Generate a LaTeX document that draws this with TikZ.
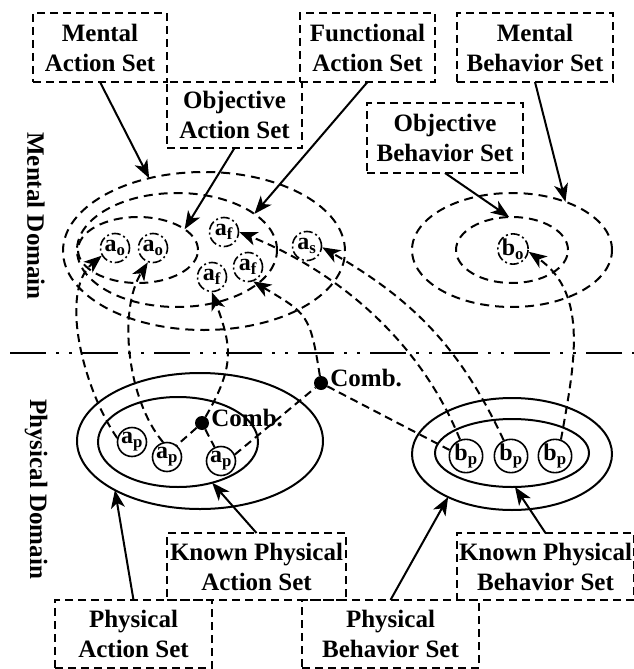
\documentclass[tikz,border=0pt]{standalone}
\usepackage{fontspec}
\setmainfont{Liberation Serif}
\usetikzlibrary{arrows.meta,shapes.geometric}

\begin{document}
\begin{tikzpicture}[x=1pt, y=1pt, >={Stealth[length=18pt,width=14pt,inset=5pt]},
  every node/.style={font=\bfseries\fontsize{25}{30}\selectfont},
  setbox/.style={draw, line width=2pt, dash pattern=on 8pt off 5pt, align=center, inner sep=0pt, outer sep=0pt},
  mset/.style={ellipse, draw, line width=2pt, dash pattern=on 9pt off 6pt, inner sep=0pt, outer sep=0pt},
  pset/.style={ellipse, draw, line width=2pt, inner sep=0pt, outer sep=0pt},
  melem/.style={circle, draw, line width=1.6pt, dash pattern=on 9pt off 3pt on 2pt off 3pt, minimum size=29pt, inner sep=0pt, font=\bfseries\fontsize{24}{24}\selectfont},
  pelem/.style={circle, draw, line width=1.6pt, minimum size=29pt, inner sep=0pt, font=\bfseries\fontsize{24}{24}\selectfont},
  comb/.style={circle, fill, inner sep=0pt, minimum size=14pt},
  link/.style={line width=2pt, dash pattern=on 8pt off 5pt},
  tag/.style={->, line width=2pt}]
  \useasboundingbox (0,0) rectangle (634,-669);

  % domains
  \node[rotate=-90] (md) at (36,-216) {Mental Domain};
  \node[rotate=-90] (pd) at (36,-489) {Physical Domain};
  \draw[line width=2pt, dash pattern=on 36pt off 10pt on 3pt off 10pt on 3pt off 10pt] (10,-353) -- (634,-353);

  % mental sets
  \node[mset, minimum width=282pt, minimum height=158pt] (MA) at (204,-251) {};
  \node[mset, minimum width=200pt, minimum height=114pt] (FA) at (177,-250) {};
  \node[mset, minimum width=120pt, minimum height=66pt]  (OA) at (138,-250) {};
  \node[mset, minimum width=200pt, minimum height=114pt] (MB) at (512,-250) {};
  \node[mset, minimum width=112pt, minimum height=66pt]  (OB) at (512,-250) {};

  \node[melem] (ao1) at (115,-248) {a\textsubscript{o}};
  \node[melem] (ao2) at (153,-248) {a\textsubscript{o}};
  \node[melem] (af1) at (224,-232) {a\textsubscript{f}};
  \node[melem] (af2) at (212,-277) {a\textsubscript{f}};
  \node[melem] (af3) at (248,-267) {a\textsubscript{f}};
  \node[melem] (as)  at (307,-246) {a\textsubscript{s}};
  \node[melem] (bo)  at (513,-249) {b\textsubscript{o}};

  % physical sets
  \node[pset, minimum width=246pt, minimum height=136pt] (PA)  at (200,-441) {};
  \node[pset, minimum width=160pt, minimum height=90pt]  (KPA) at (178,-442) {};
  \node[pset, minimum width=200pt, minimum height=112pt] (PB)  at (512,-454) {};
  \node[pset, minimum width=154pt, minimum height=68pt]  (KPB) at (512,-453) {};

  \node[pelem] (ap1) at (132,-442) {a\textsubscript{p}};
  \node[pelem] (ap2) at (167,-457) {a\textsubscript{p}};
  \node[pelem] (ap3) at (221,-461) {a\textsubscript{p}};
  \node[pelem] (bp1) at (466,-456) {b\textsubscript{p}};
  \node[pelem] (bp2) at (511,-456) {b\textsubscript{p}};
  \node[pelem] (bp3) at (555,-456) {b\textsubscript{p}};

  \node[comb] (c1) at (202,-423) {};
  \node[comb] (c2) at (321,-383) {};
  \node[anchor=west, inner sep=0pt, xshift=2pt, yshift=5pt] (c1t) at (c1.east) {Comb.};
  \node[anchor=west, inner sep=0pt, xshift=2pt, yshift=5pt] (c2t) at (c2.east) {Comb.};

  % labels
  \node[setbox, minimum width=134pt, minimum height=69pt] (lMA)  at (100,-47.5)   {Mental\\Action Set};
  \node[setbox, minimum width=135pt, minimum height=66pt] (lOA)  at (234.5,-115)  {Objective\\Action Set};
  \node[setbox, minimum width=135pt, minimum height=69pt] (lFA)  at (367.5,-47.5) {Functional\\Action Set};
  \node[setbox, minimum width=156pt, minimum height=69pt] (lMB)  at (535,-47.5)   {Mental\\Behavior Set};
  \node[setbox, minimum width=156pt, minimum height=70pt] (lOB)  at (445,-138)    {Objective\\Behavior Set};
  \node[setbox, minimum width=179pt, minimum height=67pt] (lKPA) at (256.5,-566.5) {Known Physical\\Action Set};
  \node[setbox, minimum width=157pt, minimum height=68pt] (lPA)  at (133.5,-634)  {Physical\\Action Set};
  \node[setbox, minimum width=177pt, minimum height=68pt] (lPB)  at (390.5,-634)  {Physical\\Behavior Set};
  \node[setbox, minimum width=177pt, minimum height=67pt] (lKPB) at (545.5,-566.5) {Known Physical\\Behavior Set};

  \draw[tag] (lMA.south) -- (MA.127);
  \draw[tag] (lOA.south) -- (OA.24);
  \draw[tag] (lFA.south) -- (FA.25);
  \draw[tag] (lMB.south) -- (MB.42);
  \draw[tag] (lOB.south) -- (OB.95);
  \draw[tag] (lKPA.north) -- (KPA.-50);
  \draw[tag] (lPA.north) -- (PA.210);
  \draw[tag] (lPB.north) -- (PB.214);
  \draw[tag] (lKPB.north) -- (KPB.-85);

  % mappings
  \draw[link] (c1) -- (ap2.50);
  \draw[link] (c1) -- (ap3.115);
  \draw[link] (ap3.25) -- (c2);
  \draw[link] (c2) -- (bp1.160);
  \draw[link,->] (ap1.165) to[out=125,in=220,looseness=0.8] (ao1.210);
  \draw[link,->] (ap2.105) to[out=130,in=238,looseness=0.8] (ao2.250);
  \draw[link,->] (c1) to[out=60,in=-70,looseness=1.2] (af2.south);
  \draw[link,->] (c2) to[out=99,in=-31,looseness=1.4] (af3.-70);
  \draw[link,->] (bp1.110) to[out=112,in=-22,looseness=0.9] (af1.east);
  \draw[link,->] (bp2.115) to[out=115,in=-30] (as.-5);
  \draw[link,->] (bp3.70) to[out=80,in=-35] (bo.-10);
\end{tikzpicture}
\end{document}
